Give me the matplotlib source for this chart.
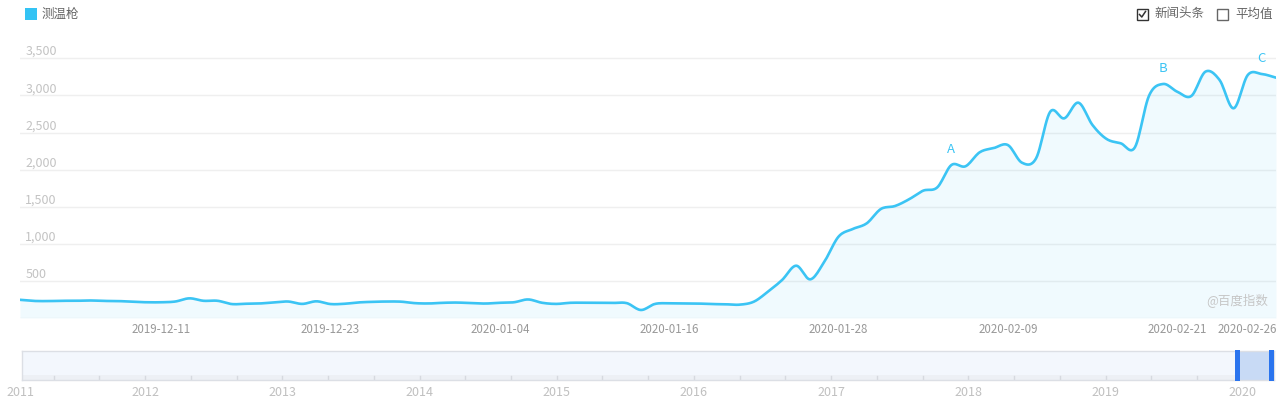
import numpy as np
import pandas as pd
import matplotlib
matplotlib.use('Agg')
import matplotlib.pyplot as plt
from matplotlib.patches import Rectangle
from matplotlib.lines import Line2D
from matplotlib.transforms import blended_transform_factory

plt.rcParams['font.family'] = ['Noto Sans CJK SC', 'DejaVu Sans']

# ---------------- data ----------------
series_name = '测温枪'
start_date = '2019-12-01'
values = [
    245, 230, 228, 232, 232, 236, 230, 228, 218, 212,
    212, 222, 265, 232, 232, 188, 192, 196, 210, 222,
    190, 225, 188, 192, 210, 218, 222, 220, 200, 196,
    205, 208, 200, 195, 205, 212, 250, 205, 190, 205,
    206, 206, 203, 200, 108, 190, 198, 196, 195, 188,
    185, 180, 220, 355, 512, 705, 521, 760, 1096, 1199,
    1276, 1469, 1509, 1600, 1716, 1761, 2062, 2045, 2233, 2290,
    2331, 2093, 2152, 2780, 2691, 2902, 2600, 2412, 2354, 2300,
    2994, 3154, 3050, 2992, 3320, 3208, 2826, 3275, 3288, 3239,
]
x_tick_labels = ['2019-12-11', '2019-12-23', '2020-01-04', '2020-01-16',
                 '2020-01-28', '2020-02-09', '2020-02-21', '2020-02-26']
y_ticks = [500, 1000, 1500, 2000, 2500, 3000, 3500]
marks = {'A': '2020-02-05', 'B': '2020-02-20', 'C': '2020-02-27'}
legend_right = ['新闻头条', '平均值']
watermark = '@百度指数'
slider_years = list(range(2011, 2021))

dates = pd.date_range(start_date, periods=len(values), freq='D')
date_idx = {d.strftime('%Y-%m-%d'): i for i, d in enumerate(dates)}

# ---------------- style ----------------
LINE = '#3BC4F4'
W, H = 1284, 408
fig = plt.figure(figsize=(W / 100, H / 100), dpi=100)
fx = lambda x: x / W
fy = lambda y: 1 - y / H

def smooth(v, n=12):
    v = np.asarray(v, float)
    x = np.arange(len(v))
    m = np.zeros_like(v)
    m[1:-1] = (v[2:] - v[:-2]) / 2
    m[0] = v[1] - v[0]
    m[-1] = v[-1] - v[-2]
    xs, ys = [], []
    t = np.linspace(0, 1, n, endpoint=False)
    h00 = 2 * t**3 - 3 * t**2 + 1
    h10 = t**3 - 2 * t**2 + t
    h01 = -2 * t**3 + 3 * t**2
    h11 = t**3 - t**2
    for i in range(len(v) - 1):
        xs.append(x[i] + t)
        ys.append(h00 * v[i] + h10 * m[i] + h01 * v[i + 1] + h11 * m[i + 1])
    xs.append([x[-1]])
    ys.append([v[-1]])
    return np.concatenate(xs), np.concatenate(ys)

# ---------------- main axes ----------------
top_px, bot_px = 30, 318
scale = (318 - 58.3) / 3500.0
ax = fig.add_axes([fx(20), fy(bot_px), (1276 - 20) / W, (bot_px - top_px) / H])
ax.set_xlim(0, len(values) - 1)
ax.set_ylim(0, (bot_px - top_px) / scale)
for s in ax.spines.values():
    s.set_visible(False)
ax.set_yticks([])

trans = blended_transform_factory(ax.transAxes, ax.transData)
for yt in y_ticks:
    ax.axhline(yt, color='#efefef', lw=1, zorder=0)
    ax.annotate(f'{yt:,}', xy=(0, yt), xycoords=trans, xytext=(3.8, 2.3),
                textcoords='offset points', ha='left', va='baseline',
                fontsize=9, color='#c3c3c3')
ax.axhline(0, color='#f0f0f0', lw=1, zorder=0)

xs, ys = smooth(values)
ax.fill_between(xs, 0, ys, color=LINE, alpha=0.075, lw=0, zorder=1)
ax.plot(xs, ys, color=LINE, lw=1.9, zorder=3, solid_capstyle='round')

ax.set_xticks([date_idx[l] for l in x_tick_labels])
ax.set_xticklabels(x_tick_labels, fontsize=8.3, color='#999999')
ax.tick_params(axis='x', length=0, pad=3.5)

for lab, d in marks.items():
    i = date_idx[d]
    ax.annotate(lab, xy=(i, values[i]), xytext=(0, 11), textcoords='offset points',
                ha='center', va='center', fontsize=9.5, color=LINE)

fig.text(fx(1268), fy(301), watermark, ha='right', va='center', fontsize=9, color='#c6c6c6')

# ---------------- legends ----------------
fig.patches.append(Rectangle((fx(25), fy(20)), 12 / W, 12 / H, transform=fig.transFigure,
                             facecolor='#33C3F4', edgecolor='none'))
fig.text(fx(42), fy(14), series_name, ha='left', va='center', fontsize=9, color='#666666')

fig.patches.append(Rectangle((fx(1137), fy(20)), 11 / W, 11 / H, transform=fig.transFigure,
                             facecolor='white', edgecolor='#333333', lw=1))
fig.lines.append(Line2D([fx(1139.5), fx(1141.8), fx(1145.5)], [fy(14.5), fy(17), fy(11.5)],
                        transform=fig.transFigure, color='#333333', lw=1.1))
fig.text(fx(1154), fy(14), legend_right[0], ha='left', va='center', fontsize=9, color='#666666')
fig.patches.append(Rectangle((fx(1217), fy(20)), 11 / W, 11 / H, transform=fig.transFigure,
                             facecolor='white', edgecolor='#666666', lw=1))
fig.text(fx(1235), fy(14), legend_right[1], ha='left', va='center', fontsize=9, color='#666666')

# ---------------- slider ----------------
yr_px = 137.2
x0_year = 2020 - (1242.7 - 22) / yr_px
x1_year = 2020 + (1274 - 1242.7) / yr_px
sax = fig.add_axes([fx(22), fy(380), (1274 - 22) / W, 29 / H])
sax.set_xlim(x0_year, x1_year)
sax.set_ylim(0, 1)
sax.set_facecolor('#f3f7fd')
for s in sax.spines.values():
    s.set_color('#dcdfe5')
    s.set_linewidth(1)
sax.set_xticks([])
sax.set_yticks([])
sax.axhspan(0, 5 / 29, color='#edf0f5', lw=0, zorder=0)
for y in slider_years:
    for k in range(3):
        p = y + k / 3
        if x0_year < p < x1_year:
            sax.plot([p, p], [0, 4 / 29], color='#d6d9df', lw=1, zorder=1)
sel0 = 2020 + (1237.5 - 1242.7) / yr_px
sax.axvspan(sel0, x1_year, color='#c8daf5', lw=0, zorder=2)
hw = 4.5 / yr_px
for hx in (2020 + (1235.3 - 1242.7) / yr_px, 2020 + (1269.3 - 1242.7) / yr_px):
    sax.add_patch(Rectangle((hx, -0.02), hw, 1.04, facecolor='#2A74EE', edgecolor='none',
                            zorder=4, clip_on=False))
strans = blended_transform_factory(sax.transData, sax.transAxes)
for y in slider_years:
    xp = max(y, 2020 + (20 - 1242.7) / yr_px)
    sax.text(xp, -13 / 29, str(y), transform=strans, ha='center', va='center',
             fontsize=9, color='#c0c0c0')

fig.savefig('out.png', dpi=100, facecolor='white')
